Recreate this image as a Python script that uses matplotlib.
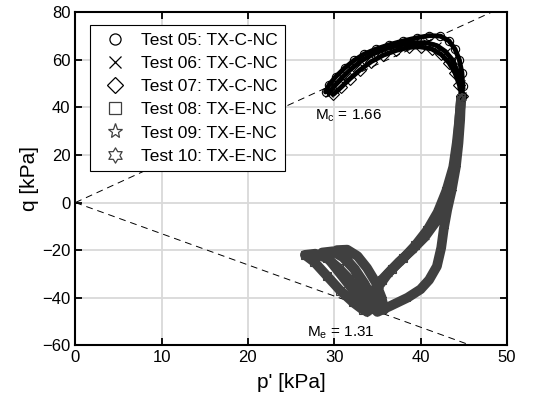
import matplotlib
matplotlib.use("Agg")
import matplotlib.pyplot as plt
from matplotlib.lines import Line2D
from matplotlib.path import Path
import numpy as np

plt.rcParams['font.family'] = ['Liberation Sans', 'DejaVu Sans']

# critical state slopes
Mc = 1.66
Me = 1.31

# compression tests (black)
p05 = [29.0, 29.4, 30.2, 31.2, 32.3, 33.5, 34.8, 36.3, 38.0, 39.6, 41.0, 42.3, 43.3, 44.0, 44.5, 44.8, 44.9, 44.8]
q05 = [46.5, 49.5, 53.0, 56.5, 59.8, 62.5, 64.5, 66.3, 68.0, 69.3, 70.2, 70.0, 68.0, 64.5, 60.0, 54.5, 49.0, 45.0]
p06 = [29.4, 30.0, 30.9, 31.9, 33.1, 34.4, 35.9, 37.6, 39.3, 40.7, 41.9, 42.9, 43.7, 44.3, 44.7, 44.8]
q06 = [46.0, 49.0, 52.5, 56.0, 59.5, 62.3, 64.6, 66.3, 67.2, 67.2, 66.0, 63.5, 60.0, 55.0, 50.0, 45.0]
p07 = [29.9, 30.8, 31.8, 33.0, 34.3, 35.7, 37.2, 38.7, 40.0, 41.3, 42.4, 43.3, 44.0, 44.5, 44.8]
q07 = [45.5, 48.5, 52.0, 55.8, 59.3, 62.0, 64.0, 65.3, 65.5, 64.6, 62.3, 58.8, 54.5, 49.5, 45.0]

# extension tests (grey)
p08 = [44.7, 44.5, 44.2, 43.8, 43.0, 42.0, 40.8, 39.4, 38.0, 36.7, 35.5, 34.6, 33.9, 33.3,
       32.2, 30.7, 29.2, 27.7, 26.6, 27.8, 29.2, 30.5, 31.7, 32.7, 33.5]
q08 = [44.0, 35.0, 25.0, 15.0, 5.0, -4.0, -11.5, -18.0, -23.5, -28.0, -32.5, -37.0, -41.5, -45.0,
       -42.0, -37.0, -31.0, -25.0, -22.0, -21.5, -23.5, -27.5, -32.0, -37.0, -42.0]
p09 = [44.7, 44.6, 44.4, 44.1, 43.6, 43.1, 42.7, 42.4, 41.9, 41.0, 40.0, 38.5, 36.5, 35.0,
       34.4, 33.5, 32.4, 31.2, 30.3, 31.5, 32.7, 33.8, 34.8, 35.5, 35.8]
q09 = [44.0, 35.0, 25.0, 15.0, 5.0, -3.0, -11.0, -19.0, -26.8, -32.5, -36.5, -40.0, -43.5, -46.0,
       -40.0, -34.0, -28.0, -23.0, -20.0, -19.8, -22.5, -27.5, -33.5, -40.0, -45.0]
p10 = [44.7, 44.5, 44.3, 43.9, 43.4, 42.8, 41.8, 40.5, 39.0, 37.5, 36.2, 35.2, 34.3, 33.8,
       33.0, 31.8, 30.5, 29.3, 28.6, 29.8, 31.0, 32.3, 33.3, 34.1, 34.6]
q10 = [44.0, 35.0, 25.0, 15.0, 6.0, 0.0, -8.0, -14.5, -20.0, -25.0, -30.0, -35.0, -41.0, -46.0,
       -41.0, -35.0, -29.0, -23.5, -21.0, -20.5, -23.0, -28.0, -34.0, -40.0, -45.0]

labels = ['Test 05: TX-C-NC', 'Test 06: TX-C-NC', 'Test 07: TX-C-NC',
          'Test 08: TX-E-NC', 'Test 09: TX-E-NC', 'Test 10: TX-E-NC']

# hexagram marker (two overlapping triangles)
ang = np.pi / 2 + np.arange(12) * np.pi / 6
rad = np.where(np.arange(12) % 2 == 0, 1.0, 1 / np.sqrt(3))
hexa = Path(np.column_stack([rad * np.cos(ang), rad * np.sin(ang)]).tolist() + [[0, 1]], closed=True)

black = 'black'
grey = '#404040'
series = [(p05, q05, 'o', black, 3.5), (p06, q06, 'x', black, 3.5), (p07, q07, 'D', black, 3.5),
          (p08, q08, 's', grey, 7.0), (p09, q09, '*', grey, 7.0), (p10, q10, hexa, grey, 7.0)]

fig = plt.figure(figsize=(5.38, 4.11), dpi=100)
ax = fig.add_axes([0.140, 0.160, 0.802, 0.810])

for p, q, m, c, lw in series:
    ax.plot(p, q, '-', color=c, lw=lw, solid_capstyle='round', solid_joinstyle='round', zorder=3)
    ax.plot(p, q, linestyle='none', marker=m, ms=6, mfc='none', mec=c, mew=0.8, zorder=4)

# critical state lines
pl = np.array([0.0, 60.0])
ax.plot(pl, Mc * pl, '--', color='black', lw=0.7, dashes=(7, 5), zorder=2)
ax.plot(pl, -Me * pl, '--', color='black', lw=0.7, dashes=(7, 5), zorder=2)
ax.text(27.8, 36.5, r'M$_\mathregular{c}$ = %.2f' % Mc, fontsize=11, va='center', ha='left', zorder=5)
ax.text(26.9, -54.5, r'M$_\mathregular{e}$ = %.2f' % Me, fontsize=11, va='center', ha='left', zorder=5)

ax.set_xlim(0, 50)
ax.set_ylim(-60, 80)
ax.set_xticks(np.arange(0, 51, 10))
ax.set_yticks(np.arange(-60, 81, 20))
ax.grid(True, color='#d9d9d9', lw=1.3, zorder=0)
ax.set_axisbelow(True)
ax.tick_params(direction='in', top=True, right=True, length=5, width=1.3, labelsize=12)
for s in ax.spines.values():
    s.set_linewidth(1.5)
ax.set_xlabel("p' [kPa]", fontsize=15, labelpad=6)
ax.set_ylabel('q [kPa]', fontsize=15, labelpad=2)

handles = [Line2D([], [], linestyle='none', marker=m, ms=8 if m in ('o', 'x', 'D', 's') else 11,
                  mfc='none', mec=c, mew=0.9)
           for _, _, m, c, _ in series]
leg = ax.legend(handles, labels, loc='upper left', bbox_to_anchor=(0.033, 0.962), borderaxespad=0,
                fontsize=12.5, labelspacing=0.46, handletextpad=0.5, borderpad=0.45, handlelength=2.0,
                fancybox=False, framealpha=1, edgecolor='black')
leg.get_frame().set_linewidth(0.8)

fig.savefig('out.png', dpi=100)
